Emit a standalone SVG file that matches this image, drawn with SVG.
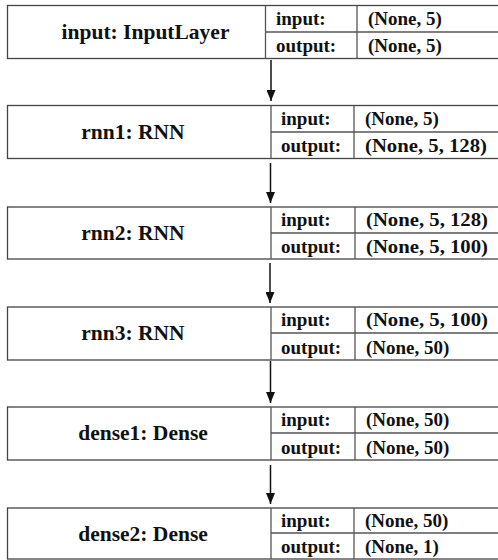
<svg xmlns="http://www.w3.org/2000/svg" width="498" height="560" viewBox="0 0 498 560">
<defs>
<style>
.b{fill:#fff;stroke:#444;stroke-width:1.3}
.l{stroke:#555;stroke-width:1.3}
.t{font-family:"Liberation Serif","Times New Roman",serif;font-weight:bold;fill:#111}
.lab{font-size:21.5px;text-anchor:middle}
.c{font-size:19px}
.a{stroke:#111;stroke-width:1.5}
</style>
<marker id="ah" markerWidth="11" markerHeight="9" refX="11" refY="4.5" orient="auto" markerUnits="userSpaceOnUse" viewBox="0 0 11 9">
<path d="M0,0 L11,4.5 L0,9 Z" fill="#111"/>
</marker>
</defs>
<rect width="498" height="560" fill="#fff"/>
<g id="n1">
<rect class="b" x="7.5" y="5.5" width="495" height="53"/>
<line class="l" x1="265.5" y1="5.5" x2="265.5" y2="58.5"/>
<line class="l" x1="357" y1="5.5" x2="357" y2="58.5"/>
<line class="l" x1="265.5" y1="32" x2="498" y2="32"/>
<text class="t lab" x="145.5" y="39">input: InputLayer</text>
<text class="t c" x="276" y="25">input:</text>
<text class="t c" x="276" y="52">output:</text>
<text class="t c" x="368" y="25">(None, 5)</text>
<text class="t c" x="368" y="52">(None, 5)</text>
</g>
<g id="n2">
<rect class="b" x="7.5" y="105.5" width="495" height="53"/>
<line class="l" x1="271" y1="105.5" x2="271" y2="158.5"/>
<line class="l" x1="354" y1="105.5" x2="354" y2="158.5"/>
<line class="l" x1="271" y1="132" x2="498" y2="132"/>
<text class="t lab" x="133" y="139">rnn1: RNN</text>
<text class="t c" x="281" y="125">input:</text>
<text class="t c" x="281" y="152">output:</text>
<text class="t c" x="365" y="125">(None, 5)</text>
<text class="t c" x="365" y="152" textLength="122" lengthAdjust="spacingAndGlyphs">(None, 5, 128)</text>
</g>
<g id="n3">
<rect class="b" x="7.5" y="207" width="495" height="52"/>
<line class="l" x1="271" y1="207" x2="271" y2="259"/>
<line class="l" x1="355" y1="207" x2="355" y2="259"/>
<line class="l" x1="271" y1="233" x2="498" y2="233"/>
<text class="t lab" x="133" y="240">rnn2: RNN</text>
<text class="t c" x="281" y="226">input:</text>
<text class="t c" x="281" y="253">output:</text>
<text class="t c" x="366" y="226" textLength="122" lengthAdjust="spacingAndGlyphs">(None, 5, 128)</text>
<text class="t c" x="366" y="253" textLength="122" lengthAdjust="spacingAndGlyphs">(None, 5, 100)</text>
</g>
<g id="n4">
<rect class="b" x="7.5" y="307" width="495" height="53"/>
<line class="l" x1="271" y1="307" x2="271" y2="360"/>
<line class="l" x1="355" y1="307" x2="355" y2="360"/>
<line class="l" x1="271" y1="333" x2="498" y2="333"/>
<text class="t lab" x="133" y="340">rnn3: RNN</text>
<text class="t c" x="281" y="326">input:</text>
<text class="t c" x="281" y="354">output:</text>
<text class="t c" x="366" y="326" textLength="122" lengthAdjust="spacingAndGlyphs">(None, 5, 100)</text>
<text class="t c" x="366" y="354">(None, 50)</text>
</g>
<g id="n5">
<rect class="b" x="7.5" y="407" width="495" height="53"/>
<line class="l" x1="271" y1="407" x2="271" y2="460"/>
<line class="l" x1="355" y1="407" x2="355" y2="460"/>
<line class="l" x1="271" y1="433" x2="498" y2="433"/>
<text class="t lab" x="143" y="440">dense1: Dense</text>
<text class="t c" x="281" y="426">input:</text>
<text class="t c" x="281" y="454">output:</text>
<text class="t c" x="366" y="426">(None, 50)</text>
<text class="t c" x="366" y="454">(None, 50)</text>
</g>
<g id="n6">
<rect class="b" x="7.5" y="508" width="495" height="51"/>
<line class="l" x1="271" y1="508" x2="271" y2="559"/>
<line class="l" x1="354" y1="508" x2="354" y2="559"/>
<line class="l" x1="271" y1="533" x2="498" y2="533"/>
<text class="t lab" x="143" y="541">dense2: Dense</text>
<text class="t c" x="281" y="527">input:</text>
<text class="t c" x="281" y="553">output:</text>
<text class="t c" x="365" y="527">(None, 50)</text>
<text class="t c" x="365" y="553">(None, 1)</text>
</g>
<g id="connectors">
<line class="a" x1="271" y1="60" x2="271" y2="101" stroke-width="2.2" marker-end="url(#ah)"/>
<line class="a" x1="270.5" y1="163" x2="270.5" y2="203" marker-end="url(#ah)"/>
<line class="a" x1="270" y1="263" x2="270" y2="303" marker-end="url(#ah)"/>
<line class="a" x1="270.5" y1="361" x2="270.5" y2="403" marker-end="url(#ah)"/>
<line class="a" x1="270.5" y1="465" x2="270.5" y2="504" marker-end="url(#ah)"/>
</g>
</svg>
